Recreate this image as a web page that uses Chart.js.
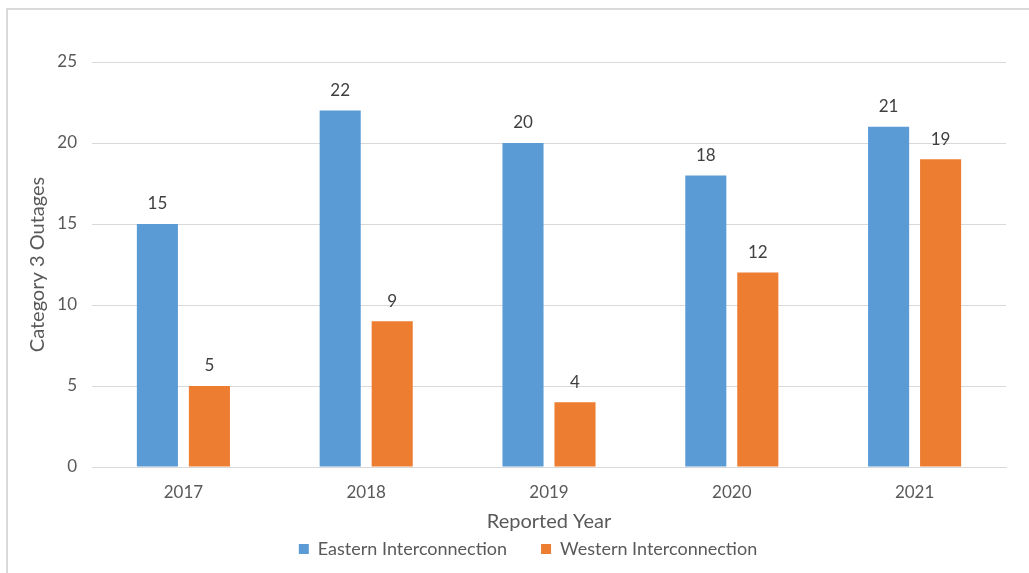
<!DOCTYPE html>
<html>
<head>
<meta charset="utf-8">
<script src="https://cdn.jsdelivr.net/npm/chart.js@4/dist/chart.umd.min.js"></script>
<style>
  html, body { margin: 0; padding: 0; background: #fff; }
  #wrap {
    position: absolute; left: 6px; top: 8px;
    width: 1023px; height: 565px;
    border-left: 2px solid #d9d9d9; border-top: 2px solid #d9d9d9;
  }
  #outer { position: absolute; left: 0; top: 0; width: 1029px; height: 573px; }
</style>
</head>
<body>
<div id="wrap"></div>
<div id="outer"><canvas id="bars" width="1029" height="573"></canvas></div>
<script>
var years = ['2017', '2018', '2019', '2020', '2021'];
var eastern = [15, 22, 20, 18, 21];
var western = [5, 9, 4, 12, 19];
var yTicks = [0, 5, 10, 15, 20, 25];

var FONT = 'Lato, "Open Sans", sans-serif';
Chart.defaults.font.family = FONT;
Chart.defaults.font.size = 17;
Chart.defaults.color = '#595959';

// value labels above each bar
var barValues = {
    id: 'barValues',
    afterDatasetsDraw: function(chart) {
        var c = chart.ctx;
        c.save();
        c.font = '17px ' + FONT;
        c.fillStyle = '#404040';
        c.textAlign = 'center';
        c.textBaseline = 'middle';
        chart.data.datasets.forEach(function(ds, i) {
            chart.getDatasetMeta(i).data.forEach(function(bar, j) {
                c.fillText(ds.data[j], bar.x, bar.y - 20);
            });
        });
        c.restore();
    }
};

var ctx = document.getElementById('bars').getContext('2d');
var chart = new Chart(ctx, {
    type: 'bar',
    data: {
        labels: years,
        datasets: [{
            label: 'Eastern Interconnection',
            data: eastern,
            backgroundColor: '#5B9BD5'
        }, {
            label: 'Western Interconnection',
            data: western,
            backgroundColor: '#ED7D31'
        }]
    },
    options: {
        responsive: false,
        animation: false,
        // wide left padding keeps the legend a bit right of centre
        layout: { padding: { left: 50, right: 23, top: 62, bottom: 5 } },
        datasets: {
            bar: { categoryPercentage: 0.569, barPercentage: 0.79 }
        },
        scales: {
            x: {
                grid: { display: false },
                border: { color: '#d9d9d9', width: 1 },
                ticks: { padding: 7 },
                title: {
                    display: true, text: 'Reported Year',
                    font: { size: 20 },
                    // pushed down into the legend band
                    padding: { top: 0, bottom: -28 }
                },
                afterFit: function(scale) { scale.height = 39; }
            },
            y: {
                min: 0,
                max: 25,
                afterBuildTicks: function(scale) {
                    scale.ticks = yTicks.map(function(v) { return { value: v }; });
                },
                grid: { color: '#d9d9d9', drawTicks: false },
                border: { display: false },
                ticks: { padding: 15 },
                title: {
                    display: true, text: 'Category 3 Outages',
                    font: { size: 20 },
                    padding: { top: -24, bottom: 0 }
                },
                afterFit: function(scale) { scale.width = 42; }
            }
        },
        plugins: {
            legend: {
                position: 'bottom',
                labels: { boxWidth: 10, boxHeight: 10, padding: 34, color: '#595959', font: { size: 18 } }
            },
            tooltip: { enabled: false }
        }
    },
    plugins: [barValues]
});
</script>
</body>
</html>
